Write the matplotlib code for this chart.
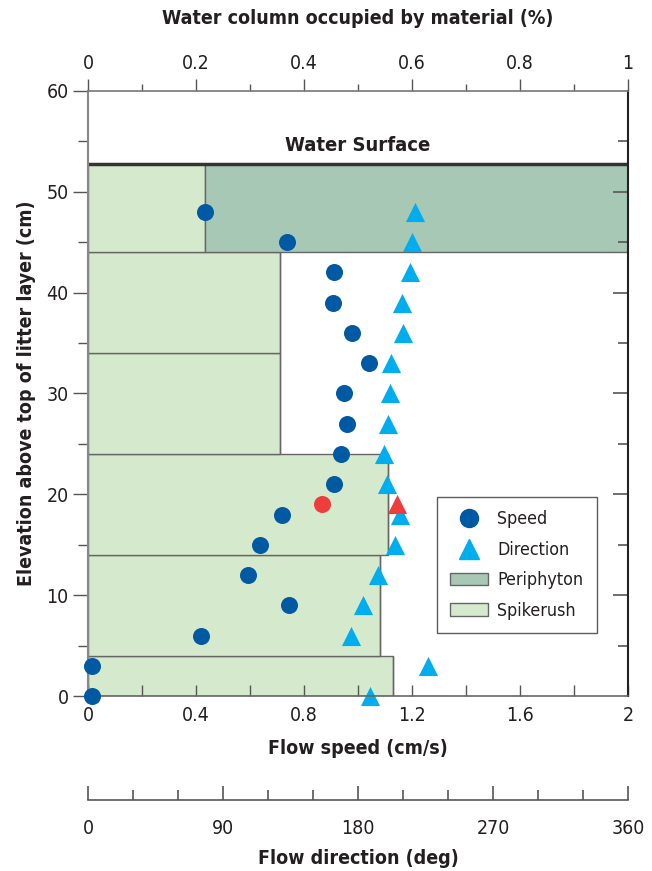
import matplotlib
matplotlib.use("Agg")
import matplotlib.pyplot as plt
from matplotlib.lines import Line2D
from matplotlib.patches import Patch
import matplotlib.font_manager as fm

fams = {f.name for f in fm.fontManager.ttflist}
if "Liberation Sans Narrow" in fams:
    plt.rcParams['font.family'] = ['Liberation Sans Narrow', 'DejaVu Sans']
else:
    plt.rcParams['font.family'] = ['DejaVu Sans']
    plt.rcParams['font.stretch'] = 'condensed'

# ---------------- data ----------------
elev = [48, 45, 42, 39, 36, 33, 30, 27, 24, 21, 18, 15, 12, 9, 6, 3, 0]
speed = [0.433, 0.737, 0.910, 0.909, 0.979, 1.039, 0.948, 0.958, 0.938,
         0.910, 0.717, 0.638, 0.593, 0.743, 0.418, 0.013, 0.013]
direction = [218.2, 216.0, 214.9, 209.3, 209.8, 201.8, 201.3, 200.2, 197.1,
             199.6, 207.9, 204.4, 193.4, 183.2, 175.6, 226.9, 188.0]
red_elev = 19
red_speed = 0.868
red_direction = 205.8

layer_bottom = [0, 4, 14, 24, 34, 44]
layer_top = [4, 14, 24, 34, 44, 52.8]
spikerush_frac = [0.5656, 0.540, 0.556, 0.356, 0.356, 0.216]
periphyton_frac = [0, 0, 0, 0, 0, 0.784]
water_surface = 52.8

speed_ticks = [0, 0.4, 0.8, 1.2, 1.6, 2]
speed_labels = ['0', '0.4', '0.8', '1.2', '1.6', '2']
frac_ticks = [0, 0.2, 0.4, 0.6, 0.8, 1]
frac_labels = ['0', '0.2', '0.4', '0.6', '0.8', '1']
dir_ticks = [0, 90, 180, 270, 360]
elev_ticks = [0, 10, 20, 30, 40, 50, 60]

# ---------------- colors ----------------
C_SPEED = '#0059a3'
C_DIR = '#00aeef'
C_RED = '#ee3d3b'
C_PERI = '#a6c8b5'
C_SPIKE = '#d5e9cc'
EDGE = '#666666'
TXT = '#231f20'
TICK = '#555555'

W, H = 652, 871
fig = plt.figure(figsize=(W / 100, H / 100), dpi=100)
L, R, T, B = 88, 628, 91, 696
rect = [L / W, 1 - B / H, (R - L) / W, (B - T) / H]
FS_TICK = 14
FS_LAB = 14

# background axes: fraction of water column (top axis) with the material bars
axf = fig.add_axes(rect)
axf.set_xlim(0, 1)
axf.set_ylim(0, 60)
heights = [t - b for t, b in zip(layer_top, layer_bottom)]
axf.barh(layer_bottom, spikerush_frac, height=heights, align='edge',
         color=C_SPIKE, edgecolor=EDGE, linewidth=1.0, zorder=1)
axf.barh(layer_bottom, periphyton_frac, height=heights, left=spikerush_frac,
         align='edge', color=C_PERI, edgecolor=EDGE, linewidth=1.0, zorder=1)
axf.axhline(water_surface, color='#333333', lw=2.5, zorder=3)
axf.text(0.5, water_surface + 0.9, 'Water Surface', ha='center', va='bottom',
         fontsize=14.5, fontweight='bold', color=TXT)
axf.xaxis.tick_top()
axf.set_xticks(frac_ticks)
axf.set_xticklabels(frac_labels, fontsize=FS_TICK, color=TXT)
axf.set_xticks([0.1, 0.3, 0.5, 0.7, 0.9], minor=True)
axf.tick_params(axis='x', which='major', direction='out', length=9, width=1,
                color=TICK, pad=4)
axf.tick_params(axis='x', which='minor', direction='out', length=5, width=1,
                color=TICK)
axf.set_yticks([])
for s in axf.spines.values():
    s.set_visible(False)

# direction overlay (0..360 deg across the width), triangles
axdp = fig.add_axes(rect)
axdp.patch.set_alpha(0)
axdp.set_xlim(0, 360)
axdp.set_ylim(0, 60)
axdp.scatter(direction, elev, s=190, marker='^', color=C_DIR, zorder=6,
             clip_on=False, linewidths=0)
axdp.scatter([red_direction], [red_elev], s=190, marker='^', color=C_RED,
             zorder=6, clip_on=False, linewidths=0)
axdp.set_xticks([])
axdp.yaxis.tick_right()
axdp.set_yticks([10, 20, 30, 40, 50])
axdp.set_yticks([5, 15, 25, 35, 45, 55], minor=True)
axdp.tick_params(axis='y', which='major', direction='in', length=11,
                 width=1.2, color=TICK, labelright=False, right=True)
axdp.tick_params(axis='y', which='minor', direction='in', length=7,
                 width=1.2, color=TICK, labelright=False, right=True)
for s in axdp.spines.values():
    s.set_visible(False)

# main axes: flow speed vs elevation
ax = fig.add_axes(rect)
ax.patch.set_alpha(0)
ax.set_xlim(0, 2)
ax.set_ylim(0, 60)
ax.scatter(speed, elev, s=150, marker='o', color=C_SPEED, zorder=5,
           clip_on=False, linewidths=0)
ax.scatter([red_speed], [red_elev], s=150, marker='o', color=C_RED, zorder=5,
           clip_on=False, linewidths=0)

ax.set_xticks(speed_ticks)
ax.set_xticklabels(speed_labels, fontsize=FS_TICK, color=TXT)
ax.set_xticks([0.2, 0.6, 1.0, 1.4, 1.8], minor=True)
ax.tick_params(axis='x', which='both', direction='in', length=8, width=1,
               color=TICK, pad=7)
ax.set_yticks(elev_ticks)
ax.set_yticklabels([str(v) for v in elev_ticks], fontsize=FS_TICK, color=TXT)
ax.set_yticks([5, 15, 25, 35, 45, 55], minor=True)
ax.tick_params(axis='y', which='major', direction='out', length=11, width=1,
               color=TICK, pad=3, left=True, right=False)
ax.tick_params(axis='y', which='minor', direction='out', length=7, width=1,
               color=TICK, left=True, right=False)

ax.spines['left'].set_color('#888888')
ax.spines['left'].set_linewidth(1.5)
ax.spines['bottom'].set_color('#666666')
ax.spines['bottom'].set_linewidth(1.2)
ax.spines['top'].set_color('#777777')
ax.spines['top'].set_linewidth(1.2)
ax.spines['right'].set_color('#222222')
ax.spines['right'].set_linewidth(1.5)

# legend
handles = [
    Line2D([], [], marker='o', ls='none', color=C_SPEED, markersize=13),
    Line2D([], [], marker='^', ls='none', color=C_DIR, markersize=14),
    Patch(facecolor=C_PERI, edgecolor=EDGE),
    Patch(facecolor=C_SPIKE, edgecolor=EDGE),
]
leg = ax.legend(handles, ['Speed', 'Direction', 'Periphyton', 'Spikerush'],
                loc='upper left',
                bbox_to_anchor=((437 - L) / (R - L), (B - 497) / (B - T)),
                frameon=True, fancybox=False, fontsize=12.8, borderpad=0.75,
                labelspacing=0.7, handlelength=2.1, handletextpad=0.55,
                borderaxespad=0)
leg.get_frame().set_edgecolor('#333333')
leg.get_frame().set_linewidth(1.0)
leg.set_zorder(10)
for t in leg.get_texts():
    t.set_color(TXT)

# separate flow-direction axis below
yd = 800
axd = fig.add_axes([L / W, 1 - yd / H, (R - L) / W, 0.0001])
axd.set_xlim(0, 360)
axd.set_yticks([])
for k in ['top', 'left', 'right']:
    axd.spines[k].set_visible(False)
axd.spines['bottom'].set_color(TICK)
axd.spines['bottom'].set_linewidth(1.2)
axd.set_xticks(dir_ticks)
axd.set_xticklabels([str(v) for v in dir_ticks], fontsize=FS_TICK, color=TXT)
axd.set_xticks([30, 60, 120, 150, 210, 240, 300, 330], minor=True)
axd.tick_params(axis='x', which='major', direction='in', length=10, width=1.2,
                color=TICK, pad=14)
axd.tick_params(axis='x', which='minor', direction='in', length=7, width=1.2,
                color=TICK)

# axis titles
fig.text((L + R) / 2 / W, 1 - 19 / H, 'Water column occupied by material (%)',
         ha='center', va='center', fontsize=FS_LAB, fontweight='bold', color=TXT)
fig.text((L + R) / 2 / W, 1 - 748 / H, 'Flow speed (cm/s)', ha='center',
         va='center', fontsize=FS_LAB, fontweight='bold', color=TXT)
fig.text((L + R) / 2 / W, 1 - 858 / H, 'Flow direction (deg)', ha='center',
         va='center', fontsize=FS_LAB, fontweight='bold', color=TXT)
fig.text(27 / W, 1 - 393 / H, 'Elevation above top of litter layer (cm)',
         ha='center', va='center', rotation=90, fontsize=FS_LAB,
         fontweight='bold', color=TXT)

fig.savefig('out.png', dpi=100)
